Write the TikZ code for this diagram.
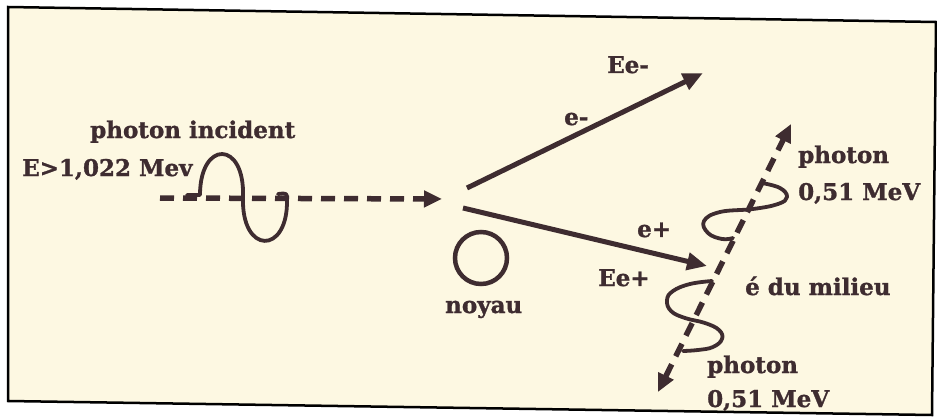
\documentclass[tikz,border=0pt]{standalone}
\usepackage{fontspec}
\setmainfont{DejaVu Serif}[BoldFeatures={FakeBold=1.2}]
\usepackage{xcolor}
\usetikzlibrary{arrows.meta}

\definecolor{ink}{RGB}{62,44,48}
\definecolor{paper}{RGB}{253,248,226}

\begin{document}
\begin{tikzpicture}[x=1pt,y=-1pt,
		lbl/.style={font=\fontsize{23}{26}\selectfont\bfseries,text=ink,inner sep=0pt,anchor=base west},
		particle/.style={ink,line width=5pt,-{Triangle[length=20pt,width=17pt]}},
		gamma/.style={ink,line width=5.5pt,dash pattern=on 14pt off 9pt},
		wave/.style={ink,line width=3.8pt,line cap=round,line join=round}]
		
		\useasboundingbox (0,0) rectangle (937,420);
		
		% Frame (scanned, slightly tilted)
		\filldraw[fill=paper,draw=black,line width=2.5pt]
		(8,7) -- (936,22) -- (932,415) -- (8,401) -- cycle;
		
		% Points of the picture
		\coordinate (inc start) at (160,198);
		\coordinate (inc tip) at (442,199);
		\coordinate (em start) at (467,188);
		\coordinate (em tip) at (703,73);
		\coordinate (ep start) at (463,208);
		\coordinate (ep tip) at (707,266);
		\coordinate (g low) at (658,392);
		\coordinate (g high) at (791,124);
		
		% Nucleus
		\node[draw=ink,line width=4.5pt,circle,minimum size=52pt,inner sep=0pt] (noyau) at (481,258) {};
		\node[lbl] (noyau lbl) at (445,313) {noyau};
		
		% Incident photon
		\draw[gamma,-{Triangle[length=18pt,width=16pt]}] (inc start) -- (inc tip);
		\draw[wave] (187,195) -- (200,195)
		.. controls (200,140) and (245,140) .. (243,197)
		.. controls (241,255) and (288,255) .. (287,200)
		.. controls (287,193) .. (278,194);
		\node[lbl] (inc lbl) at (90,138) {photon incident};
		\node[lbl] (inc E) at (22,176) {E>1,022 Mev};
		
		% Electron and positron
		\draw[particle] (em start) -- (em tip);
		\draw[particle] (ep start) -- (ep tip);
		\node[lbl] (em lbl) at (564,125) {e-};
		\node[lbl] (em E) at (607,73) {Ee-};
		\node[lbl] (ep lbl) at (637,237) {e+};
		\node[lbl] (ep E) at (598,286) {Ee+};
		
		% Annihilation photons
		\draw[gamma,{Triangle[length=18pt,width=16pt]}-{Triangle[length=18pt,width=16pt]}] (g low) -- (g high);
		\draw[wave] plot[smooth,tension=0.7] coordinates
		{(762,183) (780,188) (787,197) (778,204) (753,209) (720,212) (704,221) (708,233) (722,239) (733,238)};
		\draw[wave] plot[smooth,tension=0.7] coordinates
		{(712,281) (690,284) (673,291) (667,300) (671,311) (685,318) (705,323) (719,330) (722,339) (713,347) (698,350) (683,351)};
		\node[lbl] (g1 lbl) at (798,163) {photon};
		\node[lbl] (g1 E) at (798,200) {0,51 MeV};
		\node[lbl] (milieu) at (745,295) {é du milieu};
		\node[lbl] (g2 lbl) at (707,373) {photon};
		\node[lbl] (g2 E) at (707,407) {0,51 MeV};
		
	\end{tikzpicture}
\end{document}
